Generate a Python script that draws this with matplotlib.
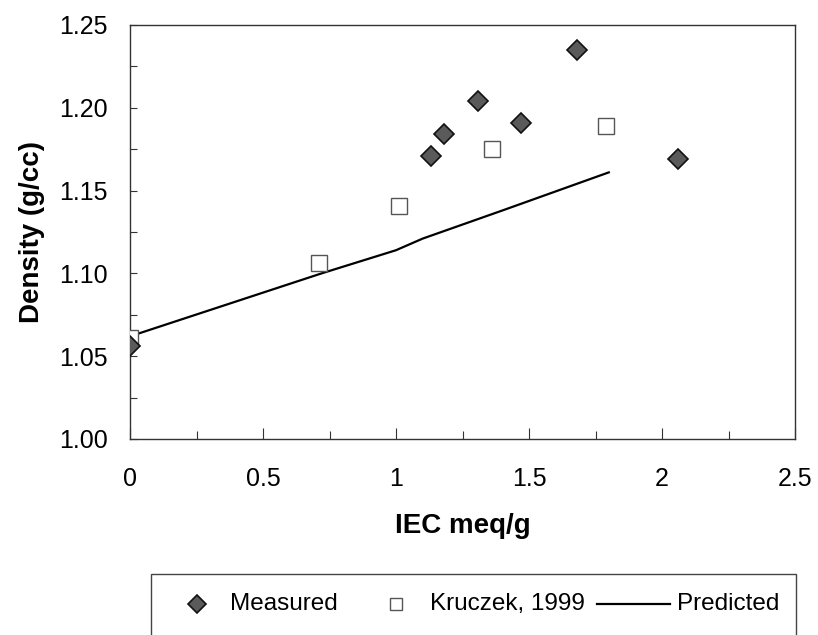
import matplotlib
matplotlib.use('Agg')
import matplotlib.pyplot as plt
from matplotlib.lines import Line2D
from matplotlib.patches import Rectangle
from matplotlib.ticker import MultipleLocator, FormatStrFormatter

plt.rcParams['font.family'] = ['Liberation Sans', 'DejaVu Sans']

W, H = 818, 635

# measured densities
iec_meas = [0.0, 1.13, 1.18, 1.31, 1.47, 1.68, 2.06]
dens_meas = [1.056, 1.171, 1.184, 1.204, 1.191, 1.235, 1.169]

# Kruczek, 1999
iec_kru = [0.0, 0.71, 1.01, 1.36, 1.79]
dens_kru = [1.061, 1.106, 1.141, 1.175, 1.189]

# predicted curve
iec_pred = [0.0, 0.72, 1.0, 1.1, 1.4, 1.8]
dens_pred = [1.062, 1.100, 1.114, 1.121, 1.138, 1.161]

meas_style = dict(linestyle='none', marker='D', mfc='#5a5a5a', mec='#111111', mew=1.2)
kru_style = dict(linestyle='none', marker='s', mfc='white', mec='#555555', mew=1.0)
pred_style = dict(color='black', lw=1.6)

fig = plt.figure(figsize=(W / 100, H / 100), dpi=100)
ax = fig.add_axes([130 / W, 1 - 439 / H, 665 / W, 414 / H])

ax.plot(iec_meas, dens_meas, ms=10, zorder=4, **meas_style)
ax.plot(iec_kru, dens_kru, ms=12, zorder=3, **kru_style)
ax.plot(iec_pred, dens_pred, zorder=2, **pred_style)

ax.set_xlim(0, 2.5)
ax.set_ylim(1.0, 1.25)
ax.xaxis.set_major_locator(MultipleLocator(0.5))
ax.xaxis.set_minor_locator(MultipleLocator(0.25))
ax.yaxis.set_major_locator(MultipleLocator(0.05))
ax.yaxis.set_minor_locator(MultipleLocator(0.025))
ax.yaxis.set_major_formatter(FormatStrFormatter('%.2f'))
ax.xaxis.set_major_formatter(lambda v, p: f'{v:g}')

for s in ax.spines.values():
    s.set_color('#333333')
    s.set_linewidth(1.0)
ax.tick_params(axis='x', which='major', direction='in', length=8, width=0.8,
               labelsize=18, pad=20, colors='#333333', labelcolor='black')
ax.tick_params(axis='x', which='minor', direction='in', length=6, width=0.8,
               colors='#333333')
ax.tick_params(axis='y', which='both', direction='in', length=5, width=0.8,
               colors='#333333', labelcolor='black')
ax.tick_params(axis='y', which='major', labelsize=18, pad=16)

ax.set_xlabel('IEC meq/g', fontsize=20, fontweight='bold', labelpad=16)
ax.set_ylabel('Density (g/cc)', fontsize=20, fontweight='bold', labelpad=10)


# legend box below the axes, drawn in pixel positions
def fx(x):
    return x / W


def fy(y):
    return 1 - y / H


fig.add_artist(Rectangle((fx(151), fy(645)), fx(796) - fx(151), fy(574) - fy(645),
                         transform=fig.transFigure, fill=False,
                         edgecolor='#444444', lw=1.0, clip_on=False))
ly = fy(604)
fig.add_artist(Line2D([fx(197)], [ly], ms=9, transform=fig.transFigure, **meas_style))
fig.add_artist(Line2D([fx(396)], [ly], ms=8, transform=fig.transFigure, **kru_style))
fig.add_artist(Line2D([fx(597), fx(670)], [ly, ly], transform=fig.transFigure, **pred_style))
fig.text(fx(230), ly, 'Measured', fontsize=17.5, va='center')
fig.text(fx(430), ly, 'Kruczek, 1999', fontsize=17.5, va='center')
fig.text(fx(677), ly, 'Predicted', fontsize=17.5, va='center')

fig.savefig('out.png', dpi=100)
